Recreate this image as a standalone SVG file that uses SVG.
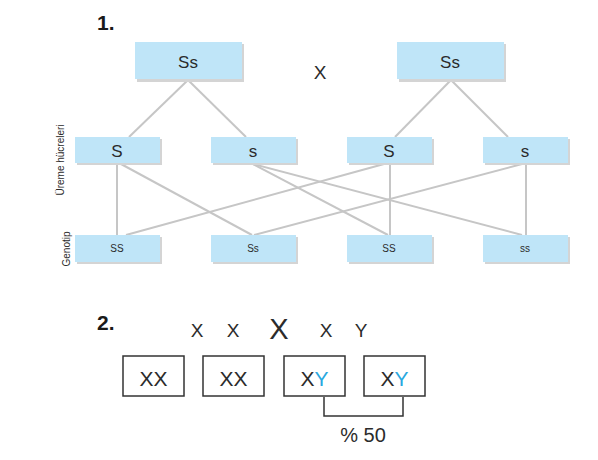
<svg xmlns="http://www.w3.org/2000/svg" width="598" height="460" viewBox="0 0 598 460">
<style>
.sh{fill:#d4d4d4}
.bx{fill:#bfe5f8}
.t{font-family:"Liberation Sans",Arial,sans-serif;fill:#2b2b2b;text-anchor:middle}
.ln{stroke:#c6c6c6;stroke-width:2;fill:none}
.wb{fill:#fff;stroke:#333;stroke-width:1.5}
</style>
<rect width="598" height="460" fill="#fff"/>
<text x="97" y="30" font-family="Liberation Sans,Arial,sans-serif" font-weight="bold" font-size="21" fill="#1a1a1a">1.</text>
<g id="connectors">
<line class="ln" x1="188" y1="80" x2="129" y2="137"/>
<line class="ln" x1="188" y1="80" x2="246" y2="137"/>
<line class="ln" x1="451" y1="80" x2="395" y2="137"/>
<line class="ln" x1="451" y1="80" x2="508" y2="137"/>
<line class="ln" x1="117" y1="164" x2="117" y2="235"/>
<line class="ln" x1="121" y1="164" x2="252" y2="235"/>
<line class="ln" x1="253" y1="164" x2="388" y2="235"/>
<line class="ln" x1="253" y1="164" x2="522" y2="235"/>
<line class="ln" x1="384" y1="164" x2="126" y2="235"/>
<line class="ln" x1="390" y1="164" x2="390" y2="235"/>
<line class="ln" x1="522" y1="164" x2="254" y2="235"/>
<line class="ln" x1="526" y1="164" x2="526" y2="235"/>
</g>
<g id="p1"><rect class="sh" x="137" y="44" width="107" height="38"/><rect class="bx" x="135" y="42" width="107" height="37"/><text class="t" x="188" y="68" font-size="17">Ss</text></g>
<text class="t" x="320" y="79" font-size="19">X</text>
<g id="p2"><rect class="sh" x="399" y="44" width="107" height="38"/><rect class="bx" x="397" y="42" width="107" height="37"/><text class="t" x="450" y="68" font-size="17">Ss</text></g>
<g id="g1"><rect class="sh" x="77" y="139" width="85" height="26"/><rect class="bx" x="75" y="137" width="85" height="26"/><text class="t" x="117" y="157" font-size="17">S</text></g>
<g id="g2"><rect class="sh" x="213" y="139" width="85" height="26"/><rect class="bx" x="211" y="137" width="85" height="26"/><text class="t" x="253" y="157" font-size="17">s</text></g>
<g id="g3"><rect class="sh" x="349" y="139" width="85" height="26"/><rect class="bx" x="347" y="137" width="85" height="26"/><text class="t" x="389" y="157" font-size="17">S</text></g>
<g id="g4"><rect class="sh" x="485" y="139" width="85" height="26"/><rect class="bx" x="483" y="137" width="85" height="26"/><text class="t" x="525" y="157" font-size="17">s</text></g>
<g id="o1"><rect class="sh" x="77" y="237" width="85" height="27"/><rect class="bx" x="75" y="235" width="85" height="27"/><text class="t" x="117" y="252" font-size="10">SS</text></g>
<g id="o2"><rect class="sh" x="213" y="237" width="85" height="27"/><rect class="bx" x="211" y="235" width="85" height="27"/><text class="t" x="253" y="252" font-size="10">Ss</text></g>
<g id="o3"><rect class="sh" x="349" y="237" width="85" height="27"/><rect class="bx" x="347" y="235" width="85" height="27"/><text class="t" x="389" y="252" font-size="10">SS</text></g>
<g id="o4"><rect class="sh" x="485" y="237" width="85" height="27"/><rect class="bx" x="483" y="235" width="85" height="27"/><text class="t" x="525" y="252" font-size="10">ss</text></g>
<text class="t" transform="translate(64,160) rotate(-90)" font-size="10" fill="#444">Üreme hücreleri</text>
<text class="t" transform="translate(70,249) rotate(-90)" font-size="10" fill="#444">Genotip</text>
<text x="97" y="330" font-family="Liberation Sans,Arial,sans-serif" font-weight="bold" font-size="21" fill="#1a1a1a">2.</text>
<g class="t" font-size="19">
<text x="197" y="337">X</text><text x="233" y="337">X</text><text x="279" y="339" font-size="29">X</text><text x="326" y="337">X</text><text x="361" y="337">Y</text>
</g>
<g id="b1"><rect class="wb" x="123" y="356" width="61" height="40"/><text class="t" x="153.5" y="386" font-size="21">XX</text></g>
<g id="b2"><rect class="wb" x="203" y="356" width="61" height="40"/><text class="t" x="233.5" y="386" font-size="21">XX</text></g>
<g id="b3"><rect class="wb" x="284" y="356" width="61" height="40"/><text class="t" x="314.5" y="386" font-size="21">X<tspan fill="#29a8e0">Y</tspan></text></g>
<g id="b4"><rect class="wb" x="364" y="356" width="61" height="40"/><text class="t" x="394.5" y="386" font-size="21">X<tspan fill="#29a8e0">Y</tspan></text></g>
<path d="M324 397V416H403V397" fill="none" stroke="#333" stroke-width="1.5"/>
<text class="t" x="363" y="442" font-size="20">% 50</text>
</svg>
